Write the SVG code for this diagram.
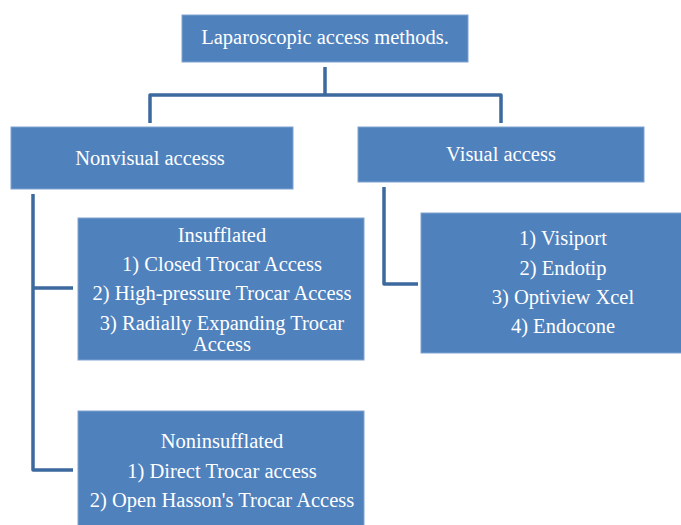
<svg xmlns="http://www.w3.org/2000/svg" width="681" height="525" viewBox="0 0 681 525">
<style>
.box{fill:#4F81BD;stroke:#7FA3D0;stroke-width:1}
.t{font-family:"Liberation Serif","Times New Roman",serif;font-size:20.5px;fill:#FFFFFF;text-anchor:middle}
.c{fill:none;stroke:#3D6A9E;stroke-width:3.5;stroke-linejoin:round}
</style>
<rect width="681" height="525" fill="#FFFFFF"/>
<g id="connectors">
<path class="c" d="M325,67 V95 M150,123 V95 H501 V123"/>
<path class="c" d="M33,194 V288 H73 M33,288 V470 H73"/>
<path class="c" d="M384,187 V284 H418"/>
</g>
<g id="root">
<rect class="box" x="182" y="15" width="286" height="47"/>
<text class="t" x="325" y="44">Laparoscopic access methods.</text>
</g>
<g id="nonvisual">
<rect class="box" x="11" y="127" width="282" height="62"/>
<text class="t" x="150" y="165">Nonvisual accesss</text>
</g>
<g id="visual">
<rect class="box" x="358" y="127" width="286" height="55"/>
<text class="t" x="501" y="161">Visual access</text>
</g>
<g id="insufflated">
<rect class="box" x="78" y="218" width="286" height="142"/>
<text class="t" x="222" y="242">Insufflated</text>
<text class="t" x="222" y="271">1) Closed Trocar Access</text>
<text class="t" x="222" y="300">2) High-pressure Trocar Access</text>
<text class="t" x="222" y="330">3) Radially Expanding Trocar</text>
<text class="t" x="222" y="351">Access</text>
</g>
<g id="visual-list">
<rect class="box" x="421" y="213" width="270" height="140"/>
<text class="t" x="563" y="245">1) Visiport</text>
<text class="t" x="563" y="275">2) Endotip</text>
<text class="t" x="563" y="304">3) Optiview Xcel</text>
<text class="t" x="563" y="333">4) Endocone</text>
</g>
<g id="noninsufflated">
<rect class="box" x="78" y="411" width="286" height="125"/>
<text class="t" x="222" y="448">Noninsufflated</text>
<text class="t" x="222" y="478">1) Direct Trocar access</text>
<text class="t" x="222" y="507">2) Open Hasson's Trocar Access</text>
</g>
</svg>
